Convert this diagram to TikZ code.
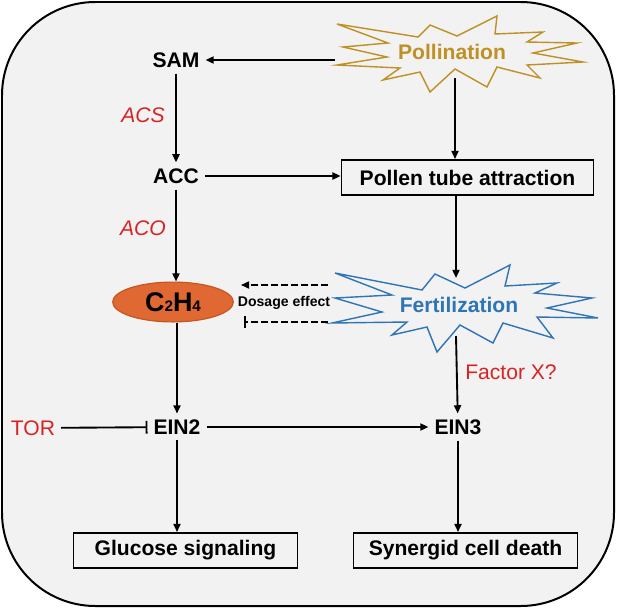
\documentclass[tikz,border=0pt]{standalone}
\usepackage{fontspec}
\setmainfont{Liberation Sans}
\usetikzlibrary{arrows.meta,shapes.geometric}

\definecolor{bggray}{RGB}{242,242,242}
\definecolor{polgold}{RGB}{191,144,36}
\definecolor{fertblue}{RGB}{46,117,182}
\definecolor{enzred}{RGB}{214,36,36}
\definecolor{ethfill}{RGB}{224,104,50}
\definecolor{ethline}{RGB}{196,86,34}

\tikzset{
	lbl/.style={font=\fontsize{18}{20}\selectfont\bfseries, inner sep=5pt},
	redlbl/.style={font=\fontsize{18}{20}\selectfont, text=enzred, inner sep=2pt},
	outbox/.style={draw, line width=1.5pt, fill=bggray, font=\fontsize{18}{20}\selectfont\bfseries, minimum height=30pt, inner sep=0pt},
	arr/.style={line width=1.6pt, -{Triangle[length=7pt,width=6pt]}},
	inh/.style={line width=1.6pt, -{Bar[width=11pt]}},
	burst/.style={line width=1.2pt, fill=bggray, line join=miter}
}

\begin{document}
\begin{tikzpicture}[x=0.03cm, y=-0.03cm]
	\useasboundingbox (0,0) rectangle (617,609);
	%frame
	\draw[line width=1.7pt, fill=bggray, rounded corners=2.8cm] (2,2) rectangle (614,606);

	%bursts
	\draw[burst, draw=polgold] (337,24) -- (418,37) -- (430,25) -- (457,36) -- (497,16) -- (495,34)
		-- (543,32) -- (527,42) -- (577,43) -- (533,53) -- (583,62) -- (527,65) -- (540,78)
		-- (497,67) -- (487,87) -- (455,69) -- (430,92) -- (420,72) -- (383,80) -- (400,68)
		-- (337,65) -- (387,57) -- (343,47) -- (388,43) -- cycle;
	\node[lbl, text=polgold] (pol) at (452,52) {Pollination};

	\draw[burst, draw=fertblue] (335,273) -- (422,290) -- (435,274) -- (465,288) -- (510,265) -- (505,286)
		-- (557,283) -- (535,293) -- (592,298) -- (547,308) -- (598,318) -- (537,317) -- (553,338)
		-- (503,323) -- (493,343) -- (460,325) -- (437,352) -- (427,327) -- (392,335) -- (407,322)
		-- (332,323) -- (382,312) -- (335,298) -- (392,295) -- cycle;
	\node[lbl, text=fertblue] (fert) at (459,305) {Fertilization};

	\coordinate (polW) at (335,60);
	\coordinate (polS) at (455,78);
	\coordinate (fertN) at (456,278);
	\coordinate (fertS) at (456,336);
	\coordinate (fertA) at (328,285);
	\coordinate (fertB) at (328,322);

	%left column
	\node[lbl] (sam) at (176,60) {SAM};
	\node[lbl] (acc) at (176,176) {ACC};
	\node[ellipse, draw=ethline, fill=ethfill, line width=1pt, minimum width=103pt, minimum height=34pt, inner sep=0pt,
		font=\fontsize{23}{24}\selectfont\bfseries] (eth) at (173,302)
		{C{\fontsize{13}{13}\selectfont 2}H{\fontsize{13}{13}\selectfont 4}};
	\node[lbl] (ein2) at (177,427) {EIN2};
	\node[outbox, minimum width=191pt] (gluc) at (185.5,550.5) {Glucose signaling};

	\node[redlbl, font=\fontsize{18}{20}\selectfont\itshape] (acs) at (143,115) {ACS};
	\node[redlbl, font=\fontsize{18}{20}\selectfont\itshape] (aco) at (143,228) {ACO};
	\node[redlbl, inner sep=5pt] (tor) at (33,428) {TOR};

	%right column
	\node[outbox, minimum width=215pt] (ptbox) at (467.5,177.5) {Pollen tube attraction};
	\node[lbl] (ein3) at (458,427) {EIN3};
	\node[outbox, minimum width=191pt] (syn) at (465.5,550.5) {Synergid cell death};
	\node[redlbl] (facx) at (511,372) {Factor X?};
	\node[font=\fontsize{12}{14}\selectfont\bfseries, inner sep=1pt] (dose) at (284,303) {Dosage effect};

	%arrows
	\draw[arr] (polW) -- (polW -| sam.east);
	\draw[arr] (sam) -- (acc);
	\draw[arr] (acc) -- (acc -| ptbox.west);
	\draw[arr] (polS) -- (polS |- ptbox.north);
	\draw[arr] (acc) -- (acc |- eth.north);
	\draw[arr] (ptbox.south -| fertN) -- (fertN);
	\draw[arr, dash pattern=on 6pt off 2.5pt] (fertA) -- ([xshift=6pt]eth.east |- fertA);
	\draw[inh, dash pattern=on 6pt off 2.5pt] (fertB) -- ([xshift=9pt]eth.east |- fertB);
	\draw[arr] (eth.south -| ein2) -- (ein2);
	\draw[arr] (fertS) -- (ein3);
	\draw[inh] (tor) -- (ein2);
	\draw[arr] (ein2) -- (ein3);
	\draw[arr] (ein2) -- (ein2 |- gluc.north);
	\draw[arr] (ein3) -- (ein3 |- syn.north);

\end{tikzpicture}
\end{document}
